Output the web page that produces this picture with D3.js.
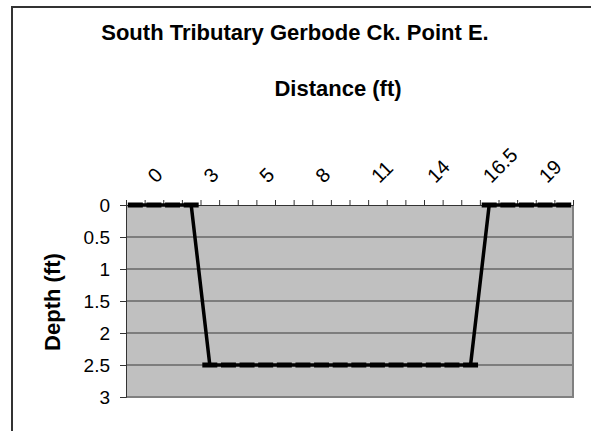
<!DOCTYPE html>
<html>
<head>
<meta charset="utf-8">
<script src="https://cdn.jsdelivr.net/npm/d3@7"></script>
<style>
  html, body { margin: 0; padding: 0; background: #fff; }
  svg { display: block; font-family: Arial, "Liberation Sans", sans-serif; }
</style>
</head>
<body>
<svg id="chart" width="591" height="431"></svg>
<script>
// Distance (ft) categories along the top axis
const categories = ["0","1","2","3","3.5","4","5","6","7","8","9","10","11","12","13","14","15","16","16.5","17","18","19","20","21"];
// Depth (ft) at each distance
const depths = [0,0,0,0,2.5,2.5,2.5,2.5,2.5,2.5,2.5,2.5,2.5,2.5,2.5,2.5,2.5,2.5,2.5,0,0,0,0,0];
// Depth axis tick labels
const depthTicks = [0,0.5,1,1.5,2,2.5,3];
const labelInterval = 3;

const titleText = "South Tributary Gerbode Ck. Point E.";
const xTitleText = "Distance (ft)";
const yTitleText = "Depth (ft)";

const svg = d3.select("#chart");
const plot = { left: 126, right: 573, top: 205, bottom: 397 };

const x = d3.scaleBand().domain(categories).range([plot.left, plot.right]).paddingInner(0).paddingOuter(0);
const xb = d3.scaleLinear().domain([0, categories.length]).range([plot.left, plot.right]);
const y = d3.scaleLinear().domain([0, 3]).range([plot.top, plot.bottom]);

// chart border (extends past right/bottom of image)
svg.append("rect").attr("x", 12).attr("y", 7).attr("width", 600).attr("height", 440)
  .attr("fill", "none").attr("stroke", "#333").attr("stroke-width", 2);

// plot area
svg.append("rect").attr("x", plot.left).attr("y", plot.top)
  .attr("width", plot.right - plot.left).attr("height", plot.bottom - plot.top)
  .attr("fill", "#c0c0c0");

// gridlines
svg.append("g").selectAll("line").data(depthTicks.filter(d => d > 0 && d < 3)).join("line")
  .attr("x1", plot.left).attr("x2", plot.right)
  .attr("y1", d => y(d)).attr("y2", d => y(d))
  .attr("stroke", "#3a3a3a").attr("stroke-width", 1);

// right & bottom plot border
svg.append("path")
  .attr("d", `M${plot.right},${plot.top}V${plot.bottom}H${plot.left}`)
  .attr("fill", "none").attr("stroke", "#808080").attr("stroke-width", 2);

// left axis
const yAxis = svg.append("g").attr("transform", `translate(${plot.left},0)`)
  .call(d3.axisLeft(y).tickValues(depthTicks).tickSize(6).tickPadding(10).tickFormat(d3.format("")));
yAxis.select(".domain").attr("stroke", "#333");
yAxis.selectAll(".tick line").attr("stroke", "#333");
yAxis.selectAll("text").attr("font-size", 19).attr("fill", "#000").attr("font-family", "Arial, 'Liberation Sans', sans-serif");

// top axis (ticks at category boundaries)
const xAxis = svg.append("g").attr("transform", `translate(0,${plot.top})`)
  .call(d3.axisTop(xb).tickValues(d3.range(categories.length + 1)).tickSize(5).tickFormat(""));
xAxis.select(".domain").attr("stroke", "#333");
xAxis.selectAll(".tick line").attr("stroke", "#333");

// category labels, rotated
const step = x.step();
svg.append("g").selectAll("text")
  .data(categories.filter((c, i) => i % labelInterval === 0))
  .join("text")
  .attr("transform", d => `translate(${x(d) + step * 1.35},179) rotate(-45)`)
  .attr("dy", "0.35em")
  .attr("text-anchor", "start")
  .attr("font-size", 20)
  .text(d => d);

// data line
const pts = categories.map((c, i) => ({ c, d: depths[i] }));
svg.append("path").datum(pts)
  .attr("d", d3.line().x(p => x(p.c) + step / 2).y(p => y(p.d)))
  .attr("fill", "none").attr("stroke", "#000").attr("stroke-width", 3.5).attr("stroke-linejoin", "round");

// dash markers
svg.append("g").selectAll("line").data(pts).join("line")
  .attr("x1", p => x(p.c) + step / 2 - 7.5).attr("x2", p => x(p.c) + step / 2 + 7.5)
  .attr("y1", p => y(p.d)).attr("y2", p => y(p.d))
  .attr("stroke", "#000").attr("stroke-width", 5);

// titles
svg.append("text").attr("x", 295).attr("y", 40).attr("text-anchor", "middle")
  .attr("font-size", 22).attr("font-weight", "bold").text(titleText);
svg.append("text").attr("x", 338).attr("y", 96).attr("text-anchor", "middle")
  .attr("font-size", 22).attr("font-weight", "bold").text(xTitleText);
svg.append("text").attr("transform", "translate(60,302) rotate(-90)").attr("text-anchor", "middle")
  .attr("font-size", 22).attr("font-weight", "bold").text(yTitleText);
</script>
</body>
</html>
